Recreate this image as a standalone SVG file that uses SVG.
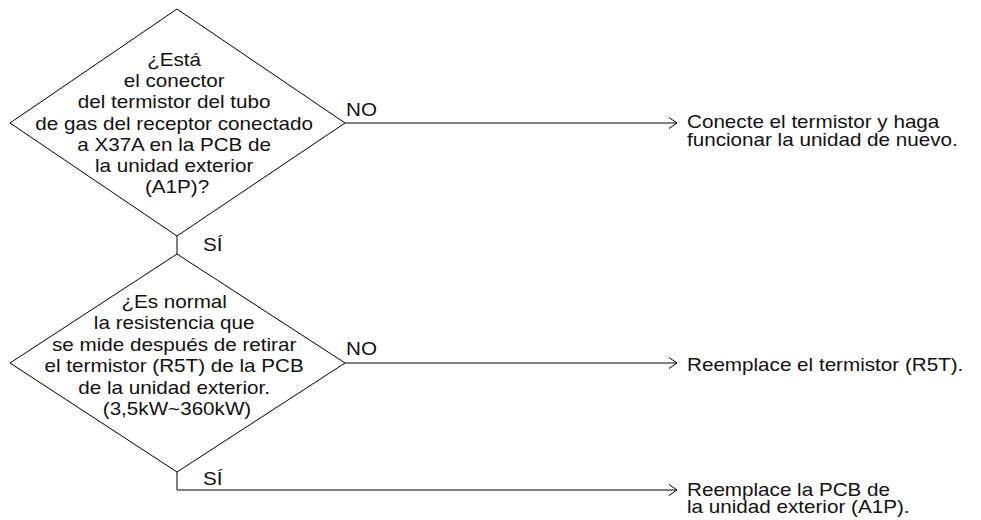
<svg xmlns="http://www.w3.org/2000/svg" width="981" height="520" viewBox="0 0 981 520">
  <style>
    .shape { fill: #fff; stroke: #000; stroke-width: 1; }
    .wire { fill: none; stroke: #000; stroke-width: 1; }
    .t { font-family: "Liberation Sans", Arial, sans-serif; font-size: 17.5px; fill: #111; }
    .c { text-anchor: middle; }
  </style>
  <defs>
    <marker id="open" markerWidth="12" markerHeight="14" refX="9" refY="6" orient="auto" markerUnits="userSpaceOnUse">
      <path d="M1,0.5 L9,6 L1,11.5" fill="none" stroke="#000" stroke-width="1"/>
    </marker>
  </defs>

  <rect width="981" height="520" fill="#fff"/>

  <!-- connectors -->
  <g id="connectors">
    <path class="wire" d="M345,123 H677" marker-end="url(#open)"/>
    <path class="wire" d="M177,236 V254"/>
    <path class="wire" d="M345,363 H677" marker-end="url(#open)"/>
    <path class="wire" d="M177,472 V490 H677" marker-end="url(#open)"/>
    <text class="t" transform="translate(346,116) scale(1.18,1)">NO</text>
    <text class="t" transform="translate(203,251) scale(1.18,1)">SÍ</text>
    <text class="t" transform="translate(346,355) scale(1.18,1)">NO</text>
    <text class="t" transform="translate(203,485) scale(1.18,1)">SÍ</text>
  </g>

  <!-- decision 1 -->
  <g id="q-conector">
    <polygon class="shape" points="177,9 345,123 177,236 10,123"/>
    <text class="t c" transform="translate(177,66) scale(1.18,1)">
      <tspan x="0" dy="0">¿Está</tspan>
      <tspan x="0" dy="21.2">el conector</tspan>
      <tspan x="0" dy="21.2">del termistor del tubo</tspan>
      <tspan x="0" dy="21.2">de gas del receptor conectado</tspan>
      <tspan x="0" dy="21.2">a X37A en la PCB de</tspan>
      <tspan x="0" dy="21.2">la unidad exterior</tspan>
      <tspan x="0" dy="21.2">(A1P)?</tspan>
    </text>
  </g>

  <!-- decision 2 -->
  <g id="q-resistencia">
    <polygon class="shape" points="177,254 345,363 177,472 10,363"/>
    <text class="t c" transform="translate(177,308) scale(1.18,1)">
      <tspan x="0" dy="0">¿Es normal</tspan>
      <tspan x="0" dy="21.4">la resistencia que</tspan>
      <tspan x="0" dy="21.4">se mide después de retirar</tspan>
      <tspan x="0" dy="21.4">el termistor (R5T) de la PCB</tspan>
      <tspan x="0" dy="21.4">de la unidad exterior.</tspan>
      <tspan x="0" dy="21.4">(3,5kW~360kW)</tspan>
    </text>
  </g>

  <!-- outcomes -->
  <g id="r-conectar">
    <text class="t" transform="translate(687,128) scale(1.18,1)">
      <tspan x="0" dy="0">Conecte el termistor y haga</tspan>
      <tspan x="0" dy="18">funcionar la unidad de nuevo.</tspan>
    </text>
  </g>
  <g id="r-termistor">
    <text class="t" transform="translate(687,371) scale(1.18,1)">Reemplace el termistor (R5T).</text>
  </g>
  <g id="r-pcb">
    <text class="t" transform="translate(687,496) scale(1.18,1)">
      <tspan x="0" dy="0">Reemplace la PCB de</tspan>
      <tspan x="0" dy="17.5">la unidad exterior (A1P).</tspan>
    </text>
  </g>
</svg>
